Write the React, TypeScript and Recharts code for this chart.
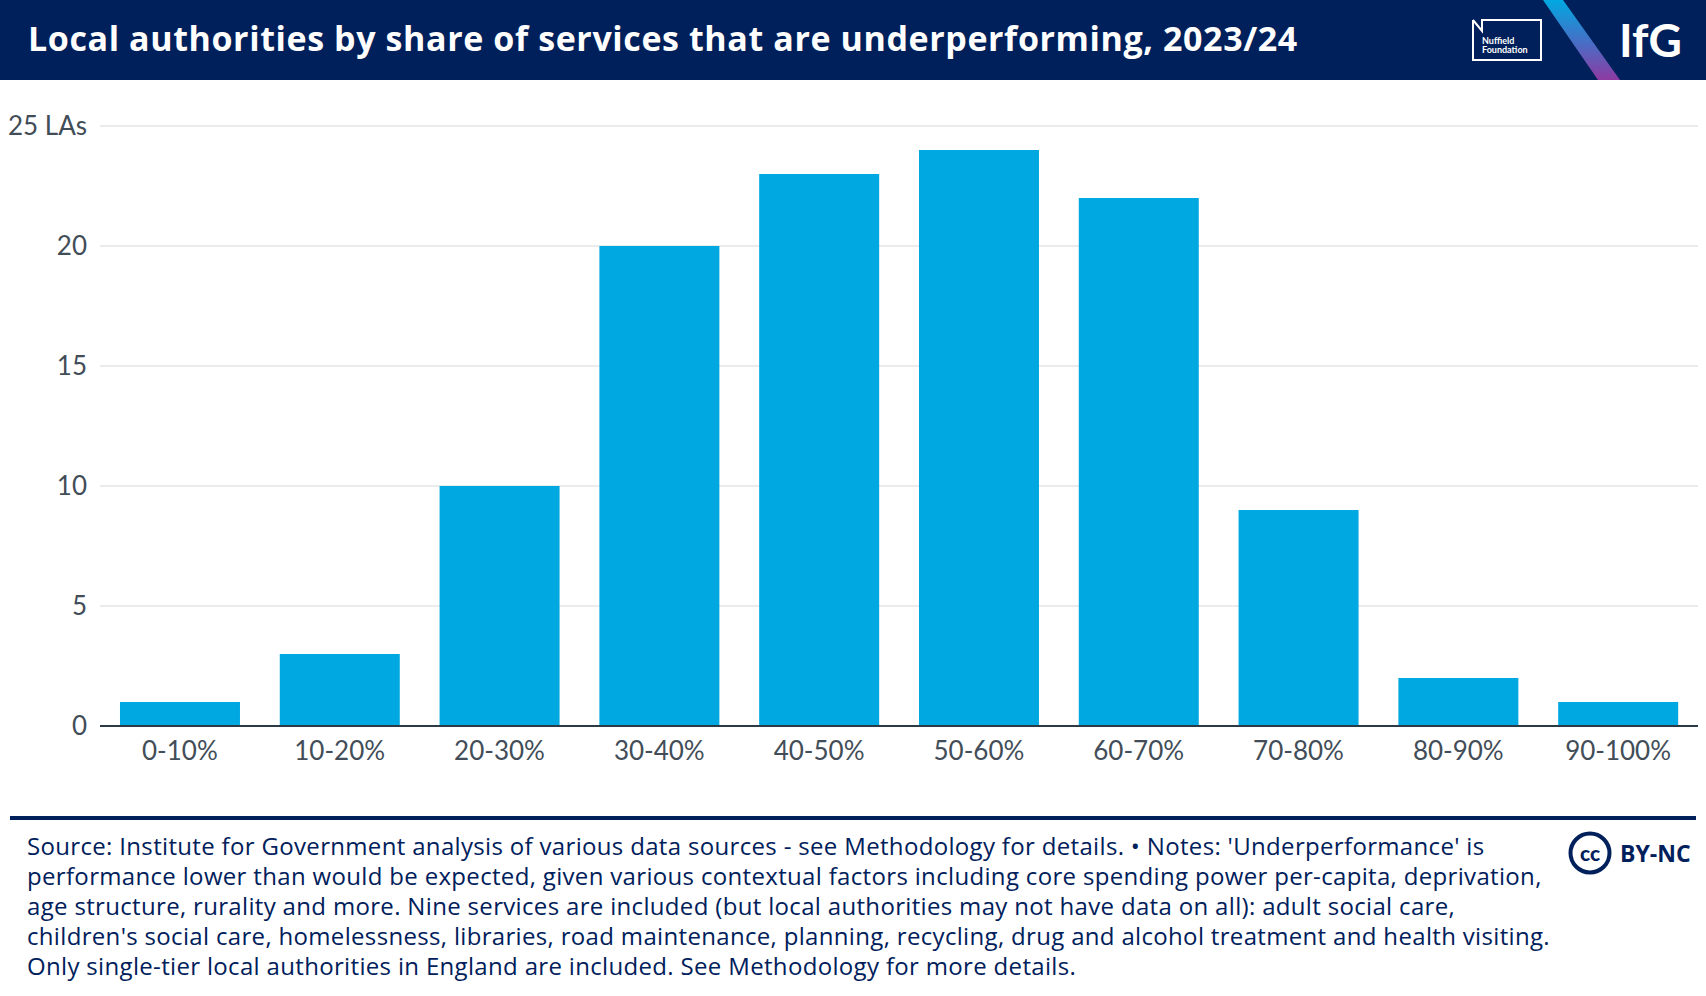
import React from 'react';
import { BarChart, Bar, XAxis, YAxis, CartesianGrid } from 'recharts';

const categories = ['0-10%', '10-20%', '20-30%', '30-40%', '40-50%', '50-60%', '60-70%', '70-80%', '80-90%', '90-100%'];
const counts = [1, 3, 10, 20, 23, 24, 22, 9, 2, 1];
const yTicks = [0, 5, 10, 15, 20, 25];

const title = 'Local authorities by share of services that are underperforming, 2023/24';
const footerLines = [
  "Source: Institute for Government analysis of various data sources - see Methodology for details. \u2022 Notes: 'Underperformance' is",
  'performance lower than would be expected, given various contextual factors including core spending power per-capita, deprivation,',
  'age structure, rurality and more. Nine services are included (but local authorities may not have data on all): adult social care,',
  "children's social care, homelessness, libraries, road maintenance, planning, recycling, drug and alcohol treatment and health visiting.",
  'Only single-tier local authorities in England are included. See Methodology for more details.',
];

const data = categories.map((c, i) => ({ band: c, count: counts[i] }));

const NAVY = '#00205b';
const FONT = 'Lato, "Open Sans", sans-serif';
const WIDE = '"Open Sans", Lato, sans-serif';

export default function App() {
  return (
    <div style={{ position: 'relative', width: 1706, height: 996, background: '#fff', fontFamily: FONT, overflow: 'hidden' }}>
      <style>{'body{margin:0}'}</style>
      <svg width={1706} height={996} style={{ position: 'absolute', left: 0, top: 0 }}>
        <defs>
          <linearGradient id="stripe" x1="0" y1="0" x2="0" y2="1">
            <stop offset="0%" stopColor="#00a8e1" />
            <stop offset="55%" stopColor="#4a6cc4" />
            <stop offset="100%" stopColor="#8e3aa2" />
          </linearGradient>
        </defs>
        <rect x={0} y={0} width={1706} height={80} fill={NAVY} />
        <text x={28} y={51} fill="#fff" fontSize={34} fontWeight={700} fontFamily={WIDE} letterSpacing={0.6}>{title}</text>
        {/* Nuffield Foundation mark */}
        <path d="M1473 20 L1473 60 L1541 60 L1541 20 L1482 20 L1482 31 L1473 20" fill="none" stroke="#fff" strokeWidth={2} />
        <text x={1482} y={44} fill="#fff" fontSize={9} fontWeight={700} fontFamily={FONT}>Nuffield</text>
        <text x={1482} y={53} fill="#fff" fontSize={9} fontWeight={700} fontFamily={FONT}>Foundation</text>
        <polygon points="1543,0 1563,0 1620,80 1598,80" fill="url(#stripe)" />
        <text x={1619} y={57} fill="#fff" fontSize={46} fontWeight={700} fontFamily={FONT}>IfG</text>
        {/* footer */}
        <rect x={10} y={816} width={1686} height={4} fill={NAVY} />
        {footerLines.map((l, i) => (
          <text key={i} x={27} y={855 + i * 30} fill={NAVY} fontSize={24} fontFamily={WIDE} letterSpacing={0.33}>{l}</text>
        ))}
        <circle cx={1590} cy={853} r={19.5} fill="none" stroke={NAVY} strokeWidth={4} />
        <text x={1590} y={861} textAnchor="middle" fill={NAVY} fontSize={21} fontWeight={900} fontFamily={FONT}>cc</text>
        <text x={1620} y={862} fill={NAVY} fontSize={23} fontWeight={700} fontFamily={WIDE}>BY-NC</text>
      </svg>
      <div style={{ position: 'absolute', left: 0, top: 80 }}>
        <BarChart
          width={1706}
          height={720}
          data={data}
          margin={{ top: 46, right: 8, bottom: 24, left: 0 }}
          barCategoryGap="12.5%"
        >
          <CartesianGrid vertical={false} stroke="#ebebeb" strokeWidth={2} />
          <XAxis
            dataKey="band"
            height={50}
            tickLine={false}
            axisLine={{ stroke: '#2b3a47', strokeWidth: 2 }}
            tickMargin={10}
            tick={{ fontSize: 26, fill: '#424d58', fontFamily: FONT }}
            interval={0}
          />
          <YAxis
            width={100}
            domain={[0, 25]}
            ticks={yTicks}
            tickLine={false}
            axisLine={false}
            tickMargin={7}
            tick={{ fontSize: 26, fill: '#424d58', fontFamily: FONT }}
            tickFormatter={(v: number) => (v === 25 ? '25 LAs' : String(v))}
          />
          <Bar dataKey="count" fill="#00a8e1" isAnimationActive={false} />
        </BarChart>
      </div>
    </div>
  );
}
